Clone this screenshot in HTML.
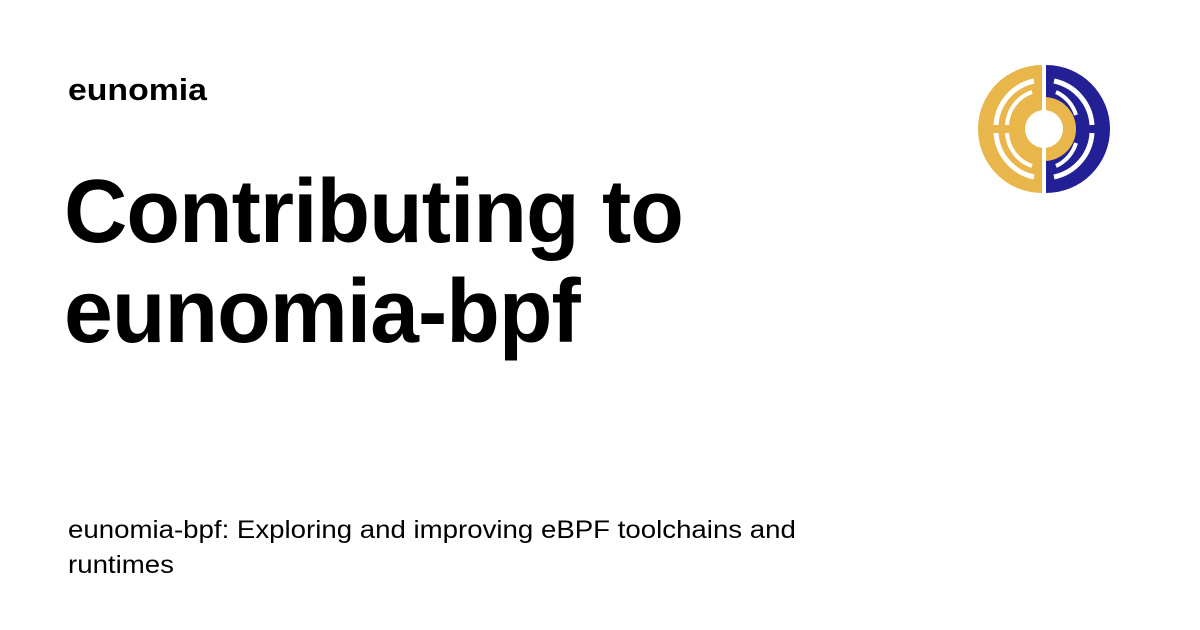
<!DOCTYPE html>
<html><head><meta charset="utf-8"><style>
html,body{margin:0;padding:0;background:#fff;}
body{width:1200px;height:630px;position:relative;overflow:hidden;font-family:"Liberation Sans",sans-serif;color:#000;}
.site{position:absolute;left:68px;top:70px;font-size:31px;font-weight:bold;line-height:40px;transform:scaleX(1.09);transform-origin:left top;}
.title{position:absolute;left:64px;top:162px;font-size:90px;font-weight:bold;line-height:100px;letter-spacing:-1px;transform:scaleX(0.975);transform-origin:left top;white-space:nowrap;}
.desc{position:absolute;left:68px;top:513px;font-size:25px;line-height:35px;width:700px;transform:scaleX(1.105);transform-origin:left top;}
svg{position:absolute;left:976px;top:61px;}
</style></head><body>
<div class="site">eunomia</div>
<div class="title">Contributing to<br>eunomia-bpf</div>
<div class="desc">eunomia-bpf: Exploring and improving eBPF toolchains and runtimes</div>
<svg width="136" height="136" viewBox="-68 -68 136 136">
<path d="M-2,-64 A64,64 0 0 0 -2,64 Z" fill="#e9b64b"/>
<path d="M2,-64 A64,64 0 0 1 2,64 Z" fill="#231f95"/>
<circle r="32" fill="#e9b64b"/>
<circle r="19" fill="#fff"/>
<path d="M-10,-48 A48,48 0 0 0 -48,-4" stroke="#fff" stroke-width="5" fill="none"/>
<path d="M-48,4 A48,48 0 0 0 -10,48" stroke="#fff" stroke-width="5" fill="none"/>
<path d="M-12,-37 A37,37 0 0 0 -37,-4" stroke="#fff" stroke-width="4" fill="none"/>
<path d="M-37,4 A37,37 0 0 0 -12,37" stroke="#fff" stroke-width="4" fill="none"/>
<path d="M10,-48 A48,48 0 0 1 48,-4" stroke="#fff" stroke-width="5" fill="none"/>
<path d="M48,4 A48,48 0 0 1 10,48" stroke="#fff" stroke-width="5" fill="none"/>
<path d="M12,-37 A37,37 0 0 1 32,-14" stroke="#fff" stroke-width="4" fill="none"/>
<path d="M32,14 A37,37 0 0 1 12,37" stroke="#fff" stroke-width="4" fill="none"/>
<rect x="-2" y="-66" width="4" height="132" fill="#fff"/>
</svg>
</body></html>
